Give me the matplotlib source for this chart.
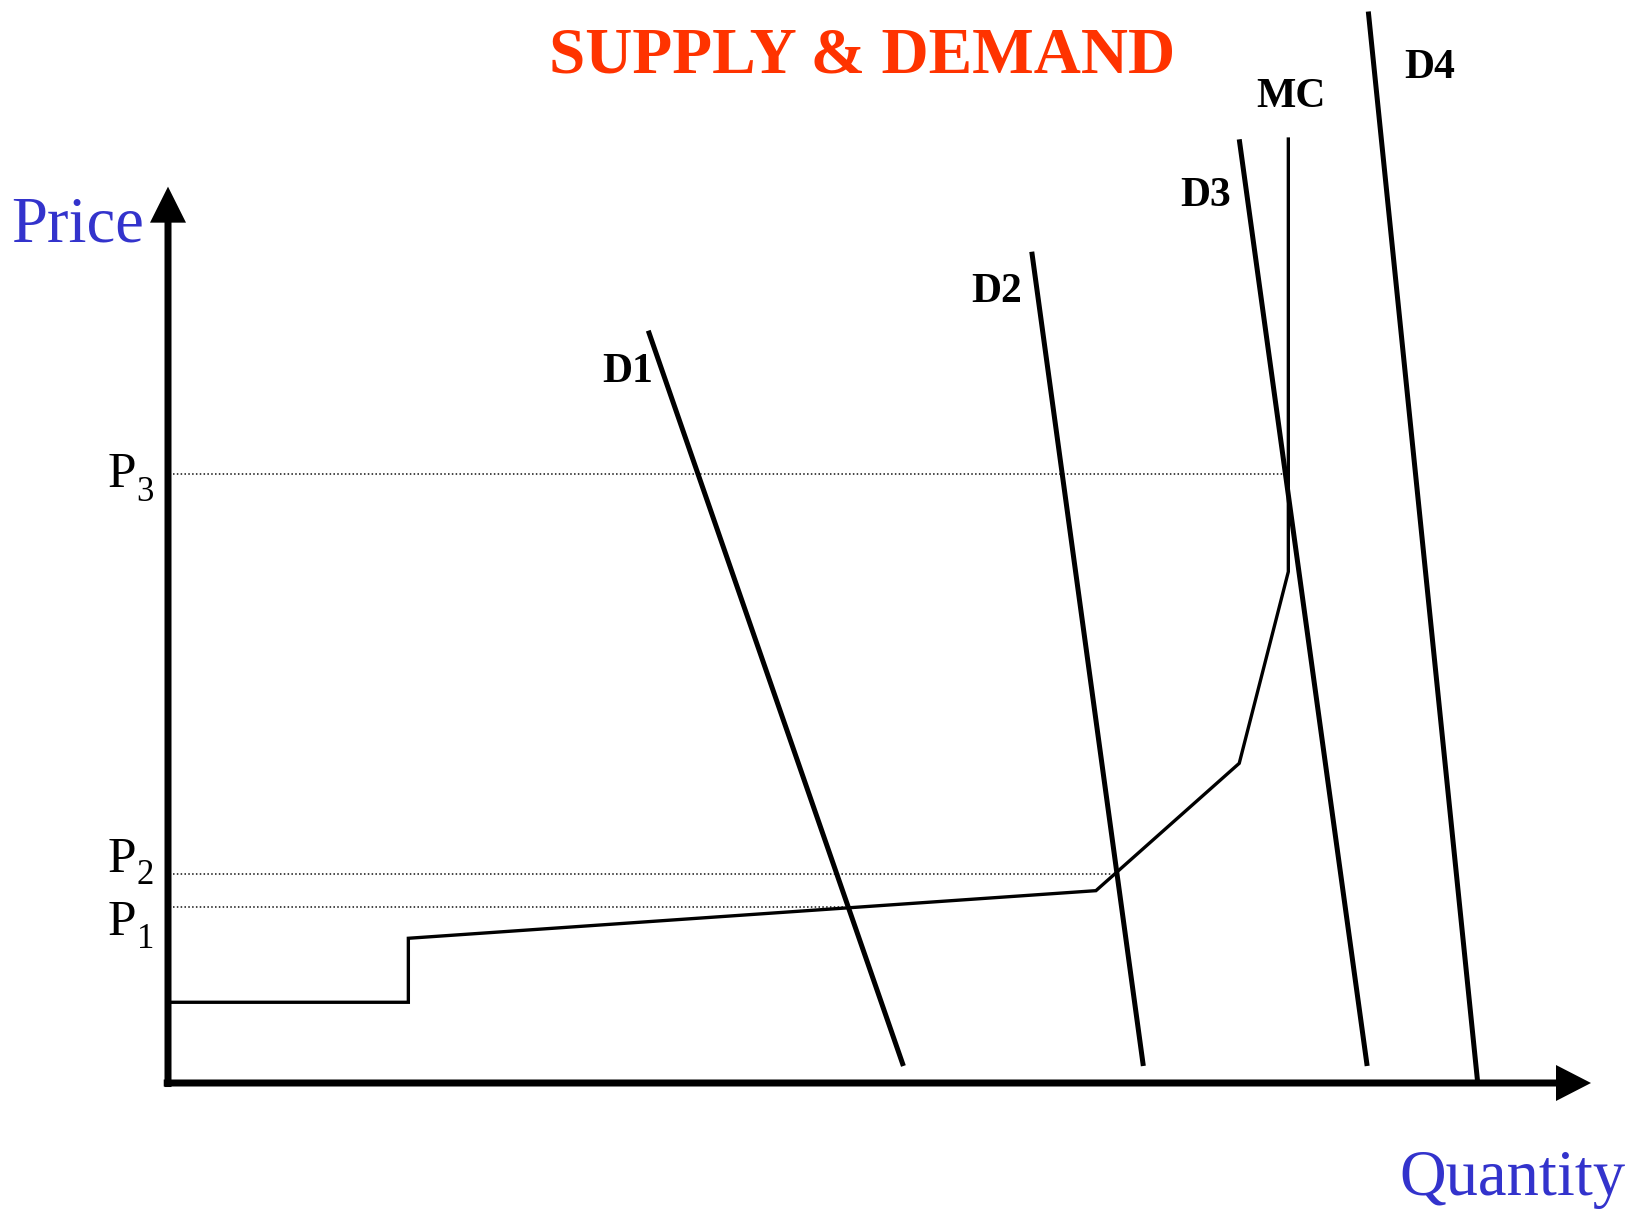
import matplotlib
matplotlib.use("Agg")
import matplotlib.pyplot as plt

# ---- data (quantity / price units) ----
supply_q = [0.0, 16.89, 16.89, 65.21, 75.28, 78.73, 78.73]
supply_p = [9.02, 9.02, 16.17, 21.49, 35.72, 57.13, 105.47]

d1_q = [33.75, 51.68]; d1_p = [84.06, 1.90]
d2_q = [60.70, 68.54]; d2_p = [92.88, 1.90]
d3_q = [75.28, 84.27]; d3_p = [105.44, 1.90]
d4_q = [84.35, 92.04]; d4_p = [119.72, 0.0]

price_levels = [19.70, 23.32, 67.99]
price_level_ends = [47.5, 66.3, 78.7]
price_labels = ["1", "2", "3"]

curve_labels = ["D1", "D2", "D3", "MC", "D4"]
curve_label_q = [30.55, 56.48, 71.12, 76.51, 86.86]
curve_label_p = [78.36, 87.30, 97.99, 109.02, 112.26]

# ---- figure ----
W, H, DPI = 1634, 1217, 100
fig = plt.figure(figsize=(W / DPI, H / DPI), dpi=DPI)
ax = fig.add_axes([0, 0, 1, 1])
xpx, ypx = 14.23, 8.95          # pixels per data unit
ox, oy = 168, 1083              # origin in pixel coordinates
ax.set_xlim(-ox / xpx, (W - ox) / xpx)
ax.set_ylim(-(H - oy) / ypx, oy / ypx)
ax.axis("off")

serif = ["Liberation Serif", "DejaVu Serif"]

# dotted price levels
for lvl, end in zip(price_levels, price_level_ends):
    ax.plot([0.35, end], [lvl, lvl], color="#111111", lw=1.1,
            linestyle=(0, (1, 1.5)), solid_capstyle="butt")

# supply / MC curve
ax.plot(supply_q, supply_p, color="black", lw=2.4, solid_joinstyle="miter")

# demand curves
for q, p in [(d1_q, d1_p), (d2_q, d2_p), (d3_q, d3_p), (d4_q, d4_p)]:
    ax.plot(q, p, color="black", lw=3.6, solid_capstyle="butt")

# axes arrows
ax.arrow(0, -0.45, 0, 100.15 + 0.45, width=7 / xpx, head_width=36 / xpx,
         head_length=36 / ypx, length_includes_head=True, lw=0, fc="black")
ax.arrow(-0.3, 0, 100.0 + 0.3, 0, width=7 / ypx, head_width=36 / ypx,
         head_length=35 / xpx, length_includes_head=True, lw=0, fc="black")

# curve labels
for lab, q, p in zip(curve_labels, curve_label_q, curve_label_p):
    ax.text(q, p, lab, family=serif, fontweight="bold", fontsize=30,
            ha="left", va="baseline", color="black")

# price labels with subscripts
p_baselines = [16.54, 23.61, 66.56]
sub_baselines = [15.05, 22.20, 65.03]
for lab, pb, sb in zip(price_labels, p_baselines, sub_baselines):
    ax.text(-4.27, pb, "P", family=serif, fontsize=37, ha="left", va="baseline")
    ax.text(-2.2, sb, lab, family=serif, fontsize=25, ha="left", va="baseline")

# axis titles
ax.text(-11.05, 94.0, "Price", family=serif, fontsize=46.5, color="#3333CC",
        ha="left", va="baseline")
ax.text(86.5, -12.55, "Quantity", family=serif, fontsize=46.5, color="#3333CC",
        ha="left", va="baseline")

# title
ax.text(48.77, 112.85, "SUPPLY & DEMAND", family=serif, fontweight="bold",
        fontsize=47, color="#FF3300", ha="center", va="baseline")

fig.savefig("out.png", dpi=DPI, facecolor="white")
